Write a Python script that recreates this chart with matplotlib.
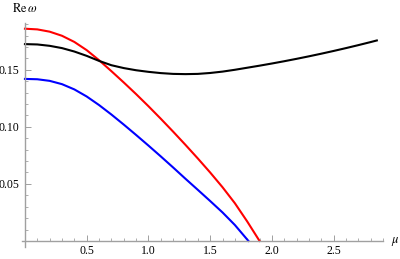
import numpy as np
import matplotlib
matplotlib.use("Agg")
import matplotlib.pyplot as plt
from matplotlib.ticker import MultipleLocator, FixedLocator

plt.rcParams['font.family'] = ['Liberation Serif', 'DejaVu Serif']
plt.rcParams['mathtext.fontset'] = 'stix'

# values
red_mu = [0.0, 0.1, 0.2, 0.3, 0.4, 0.5, 0.6, 0.7, 0.8, 0.9, 1.0,
          1.1, 1.2, 1.3, 1.4, 1.5, 1.6, 1.7, 1.8, 1.9]
red_re = [0.1860, 0.1854, 0.1834, 0.1798, 0.1744, 0.1672, 0.1584, 0.1488, 0.1389, 0.1287, 0.1181,
          0.1071, 0.0958, 0.0842, 0.0723, 0.0600, 0.0471, 0.0331, 0.0171, 0.0]

blue_mu = [0.0, 0.1, 0.2, 0.3, 0.4, 0.5, 0.6, 0.7, 0.8, 0.9, 1.0,
           1.1, 1.2, 1.3, 1.4, 1.5, 1.6, 1.7, 1.81]
blue_re = [0.1420, 0.1417, 0.1403, 0.1374, 0.1328, 0.1266, 0.1191, 0.1108, 0.1020, 0.0929, 0.0836,
           0.0741, 0.0644, 0.0545, 0.0448, 0.0350, 0.0250, 0.0140, 0.0]

black_mu = [0.0, 0.1, 0.2, 0.3, 0.4, 0.5, 0.6, 0.7, 0.8, 0.9, 1.0,
            1.1, 1.2, 1.3, 1.4, 1.5, 1.6, 1.7, 1.8, 1.9, 2.0,
            2.1, 2.2, 2.3, 2.4, 2.5, 2.6, 2.7, 2.8, 2.85]
black_re = [0.1725, 0.1722, 0.1710, 0.1690, 0.1660, 0.1622, 0.1578, 0.1540, 0.1515, 0.1496, 0.1482,
            0.1471, 0.1464, 0.1462, 0.1464, 0.1472, 0.1484, 0.1500, 0.1518, 0.1536, 0.1555,
            0.1575, 0.1596, 0.1618, 0.1641, 0.1665, 0.1690, 0.1716, 0.1743, 0.1757]

x_major = [0.5, 1.0, 1.5, 2.0, 2.5]
y_major = [0.05, 0.10, 0.15]

fig = plt.figure(figsize=(4.0, 2.59), dpi=100)
ax = fig.add_axes([22/400, 1-247/259, (383-22)/400, (247-23)/259])

ax.plot(red_mu, red_re, color='#ff0000', lw=1.5)
ax.plot(blue_mu, blue_re, color='#0000ff', lw=1.5)
ax.plot(black_mu, black_re, color='black', lw=1.5)

ax.set_xlim(-0.024, 2.90)
ax.set_ylim(-0.0053, 0.191)

axis_col = '#a0a0a0'
for s in ['top', 'right']:
    ax.spines[s].set_visible(False)
for s in ['left', 'bottom']:
    ax.spines[s].set_position(('data', 0))
    ax.spines[s].set_color(axis_col)
    ax.spines[s].set_linewidth(1.0)

ax.xaxis.set_major_locator(FixedLocator(x_major))
ax.xaxis.set_minor_locator(MultipleLocator(0.1))
ax.yaxis.set_major_locator(FixedLocator(y_major))
ax.yaxis.set_minor_locator(MultipleLocator(0.01))
ax.set_xticklabels([f"{v:.1f}" for v in x_major])
ax.set_yticklabels([f"{v:.2f}" for v in y_major])

ax.tick_params(which='major', direction='in', length=4, width=0.7, color=axis_col,
               labelsize=8.5, pad=3)
ax.tick_params(which='minor', direction='in', length=2.2, width=0.6, color=axis_col)
ax.tick_params(axis='y', which='both', pad=4)

fig.text(25/400, 1-9/259, r'$\mathrm{Re}\,\omega$', ha='center', va='center', fontsize=9)
fig.text(395/400, 1-241/259, r'$\mu$', ha='center', va='center', fontsize=9)

fig.savefig('out.png', dpi=100)
